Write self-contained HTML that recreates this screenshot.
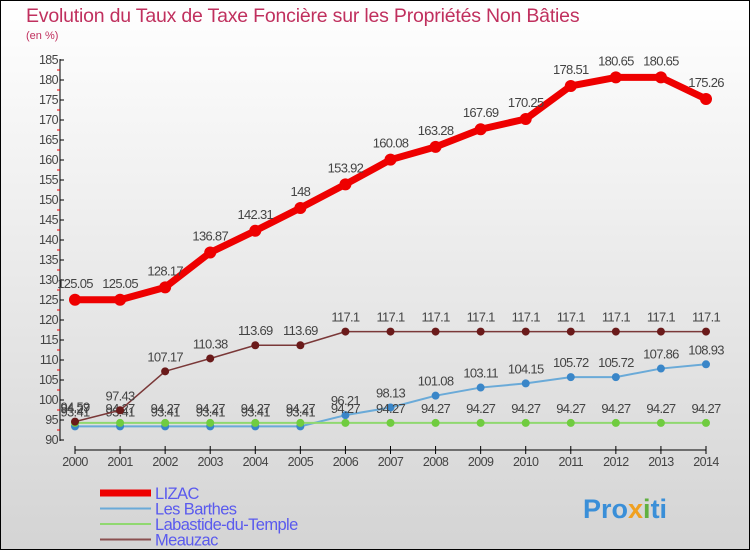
<!DOCTYPE html>
<html><head><meta charset="utf-8"><style>
body{margin:0;width:750px;height:550px;overflow:hidden}
svg{display:block;font-family:"Liberation Sans",sans-serif}
</style></head><body>
<svg id="c" width="750" height="550" xmlns="http://www.w3.org/2000/svg">
<defs><linearGradient id="bg" x1="0" y1="0" x2="0" y2="1"><stop offset="0" stop-color="#ffffff"/><stop offset="1" stop-color="#d4d4d4"/></linearGradient></defs>
<rect x="0.5" y="0.5" width="749" height="549" fill="url(#bg)" stroke="#000"/>
<text x="26" y="22" font-size="19.5" fill="#c0305e" letter-spacing="-0.2">Evolution du Taux de Taxe Foncière sur les Propriétés Non Bâties</text>
<text x="26" y="39" font-size="11" fill="#c0305e">(en %)</text>
<g id="axes"></g><g id="series"></g><g id="legend"></g>
<text x="583" y="518" font-size="27" font-weight="bold" fill="#3a8fd8">Pro<tspan fill="#f0a020">x</tspan><tspan fill="#60b040">i</tspan>ti</text>
</svg>
<script>
const years=[2000,2001,2002,2003,2004,2005,2006,2007,2008,2009,2010,2011,2012,2013,2014];
const yTicks=[90,95,100,105,110,115,120,125,130,135,140,145,150,155,160,165,170,175,180,185];
const lizac=[125.05,125.05,128.17,136.87,142.31,148,153.92,160.08,163.28,167.69,170.25,178.51,180.65,180.65,175.26];
const barthes=[93.41,93.41,93.41,93.41,93.41,93.41,96.21,98.13,101.08,103.11,104.15,105.72,105.72,107.86,108.93];
const labastide=[94.27,94.27,94.27,94.27,94.27,94.27,94.27,94.27,94.27,94.27,94.27,94.27,94.27,94.27,94.27];
const meauzac=[94.59,97.43,107.17,110.38,113.69,113.69,117.1,117.1,117.1,117.1,117.1,117.1,117.1,117.1,117.1];
const NS="http://www.w3.org/2000/svg";
const X=i=>75+i*(631/14), Y=v=>440-(v-90)*4;
function mk(t,a,p){const e=document.createElementNS(NS,t);for(const k in a)e.setAttribute(k,a[k]);p.appendChild(e);return e;}
const ax=document.getElementById('axes');
const yl=mk('line',{x1:60,y1:59,x2:60,y2:441,stroke:'#000'},ax);


yTicks.forEach(v=>{
 mk('line',{x1:60,y1:Y(v),x2:64,y2:Y(v),stroke:'#000'},ax);
 if(v<185)mk('line',{x1:57,y1:Y(v+2.5),x2:60,y2:Y(v+2.5),stroke:'#e00'},ax);
 const t=mk('text',{x:58,y:Y(v)+4,'font-size':12.5,fill:'#444','text-anchor':'end','letter-spacing':'-0.6'},ax);t.textContent=v;
 
 
});
const xl=mk('line',{x1:75,y1:450,x2:706,y2:450,stroke:'#000'},ax);


years.forEach((y,i)=>{
 mk('line',{x1:X(i),y1:446,x2:X(i),y2:454,stroke:'#000'},ax);
 const t=mk('text',{x:X(i),y:466,'font-size':12.5,fill:'#444','text-anchor':'middle','letter-spacing':'-0.6'},ax);t.textContent=y;
 
 
});
const sg=document.getElementById('series');
function series(data,color,dot,w,r,name,fs){
 const g=mk('g',{},sg);
 
 
 mk('polyline',{points:data.map((v,i)=>X(i)+','+Y(v)).join(' '),fill:'none',stroke:color,'stroke-width':w,'stroke-linejoin':'round'},g);
 data.forEach((v,i)=>{
  const c=mk('circle',{cx:X(i),cy:Y(v),r:r,fill:dot},g);
  
  
  const t=mk('text',{x:X(i),y:Y(v)-(r+6),'font-size':fs,fill:'#444','text-anchor':'middle','letter-spacing':'-0.7'},g);
  t.textContent=String(v);
  
  
 });
}
series(barthes,'#6aaad8','#3a86c8',2,4,'les-barthes',13);
series(labastide,'#90d870','#70cc40',2,4,'labastide',13);
series(meauzac,'#7a3838','#6a1a1a',1.5,4,'meauzac',13);
series(lizac,'#ee0000','#ee0000',7,6,'lizac',13);
const lg=document.getElementById('legend');
[['LIZAC','#ee0000',7],['Les Barthes','#6aaad8',2],['Labastide-du-Temple','#90d870',2],['Meauzac','#8a5050',2]].forEach((e,i)=>{
 const y=493+i*15.5;
 const g=mk('g',{},lg);
 
 
 mk('line',{x1:100,y1:y,x2:151,y2:y,stroke:e[1],'stroke-width':e[2]},g);
 const t=mk('text',{x:155,y:y+6,'font-size':16.5,fill:'#5a5aee','letter-spacing':'-0.6'},g);t.textContent=e[0];
});
</script>
</body></html>
